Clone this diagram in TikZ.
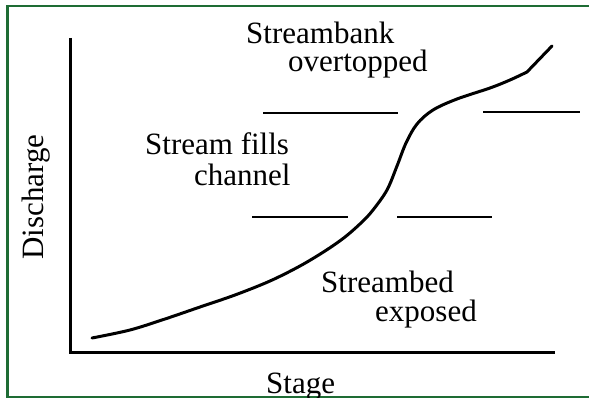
\documentclass[tikz,border=0pt]{standalone}
\usepackage{fontspec}
\setmainfont{Liberation Serif}
\begin{document}
\begin{tikzpicture}[x=1pt,y=-1pt,
  lbl/.style={anchor=base west,inner sep=0pt,font=\fontsize{31}{31}\selectfont},
  axis/.style={line width=3pt,black},
  level/.style={line width=2pt,black},
  rating/.style={line width=3pt,black,line cap=round,line join=round}]
\useasboundingbox (0,0) rectangle (589,398);
\fill[white] (0,0) rectangle (589,398);
% frame
\draw[line width=2.6pt,color={rgb,255:red,30;green,108;blue,52}]
  (589,6) -- (7.5,6) -- (7.5,397) -- (589,397);
% axes
\coordinate (ytop) at (70,38);
\coordinate (origin) at (70,352);
\coordinate (xend) at (555,352);
\draw[axis] (ytop) -- (origin) -- (xend);
% stage thresholds
\draw[level] (263,113) -- (398,113);
\draw[level] (483,112) -- (580,112);
\draw[level] (252,217) -- (348,217);
\draw[level] (397,217) -- (492,217);
% rating curve
\draw[rating] plot[smooth,tension=0.55] coordinates {
  (92,338) (130,330) (165,319) (200,307) (235,295) (270,281) (300,266)
  (325,251) (345,237) (362,222) (373,210) (387,190) (397,166) (406,143)
  (417,124) (433,110) (457,99) (490,88) (510,80) (527,72)} -- (552,46);
% labels
\node[lbl] (bank1) at (246,44) {Streambank};
\node[lbl] (bank2) at (288,72) {overtopped};
\node[lbl] (fill1) at (145,155) {Stream fills};
\node[lbl] (fill2) at (194,186) {channel};
\node[lbl] (bed1) at (321,292) {Streambed};
\node[lbl] (bed2) at (375,321) {exposed};
\node[lbl] (stage) at (266,393) {Stage};
\node[lbl,rotate=90] (discharge) at (43,260) {Discharge};
\end{tikzpicture}
\end{document}
